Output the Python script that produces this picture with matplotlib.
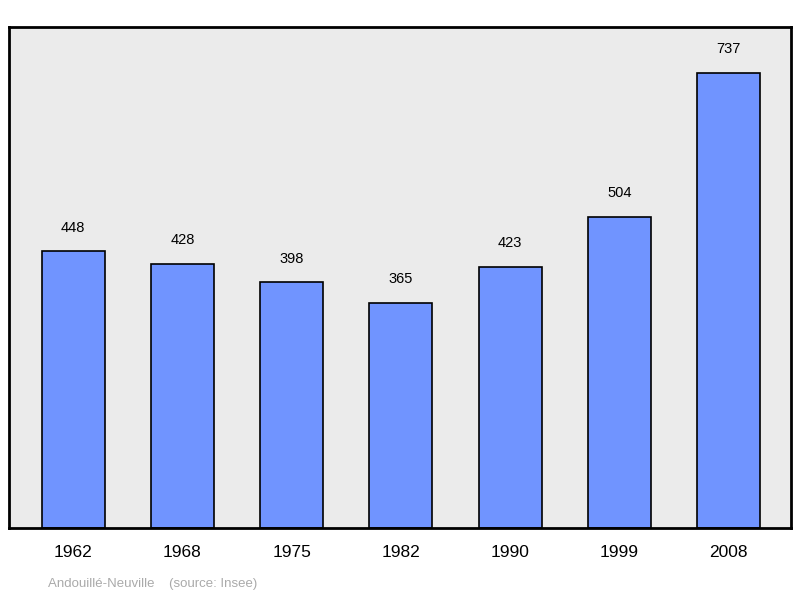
import matplotlib
matplotlib.use("Agg")
import matplotlib.pyplot as plt

years = ["1962", "1968", "1975", "1982", "1990", "1999", "2008"]
population = [448, 428, 398, 365, 423, 504, 737]

fig = plt.figure(figsize=(8, 5.98), dpi=100)
ax = fig.add_axes([9/800, 1-528/598, 782/800, 501/598])
ax.set_facecolor("#ebebeb")
x = list(range(len(years)))
ax.bar(x, population, width=0.576, color="#7094ff", edgecolor="black", linewidth=1.2, zorder=2)
for xi, v in zip(x, population):
    ax.annotate(str(v), (xi, v), xytext=(0, 12), textcoords="offset points",
                ha="center", va="bottom", fontsize=10.5, family="Liberation Sans")
ax.set_xlim(-0.586, 6.57)
ax.set_ylim(0, 811.5)
ax.set_yticks([])
ax.set_xticks(x)
ax.set_xticklabels(years, fontsize=12.5, family="Liberation Sans")
ax.tick_params(axis="x", length=0, pad=12)
for s in ax.spines.values():
    s.set_linewidth(2)
fig.text(48/800, 1-584/598, "Andouillé-Neuville    (source: Insee)", fontsize=9.5,
         color="#aaaaaa", family="Liberation Sans", va="center")
fig.savefig("out.png", dpi=100)
